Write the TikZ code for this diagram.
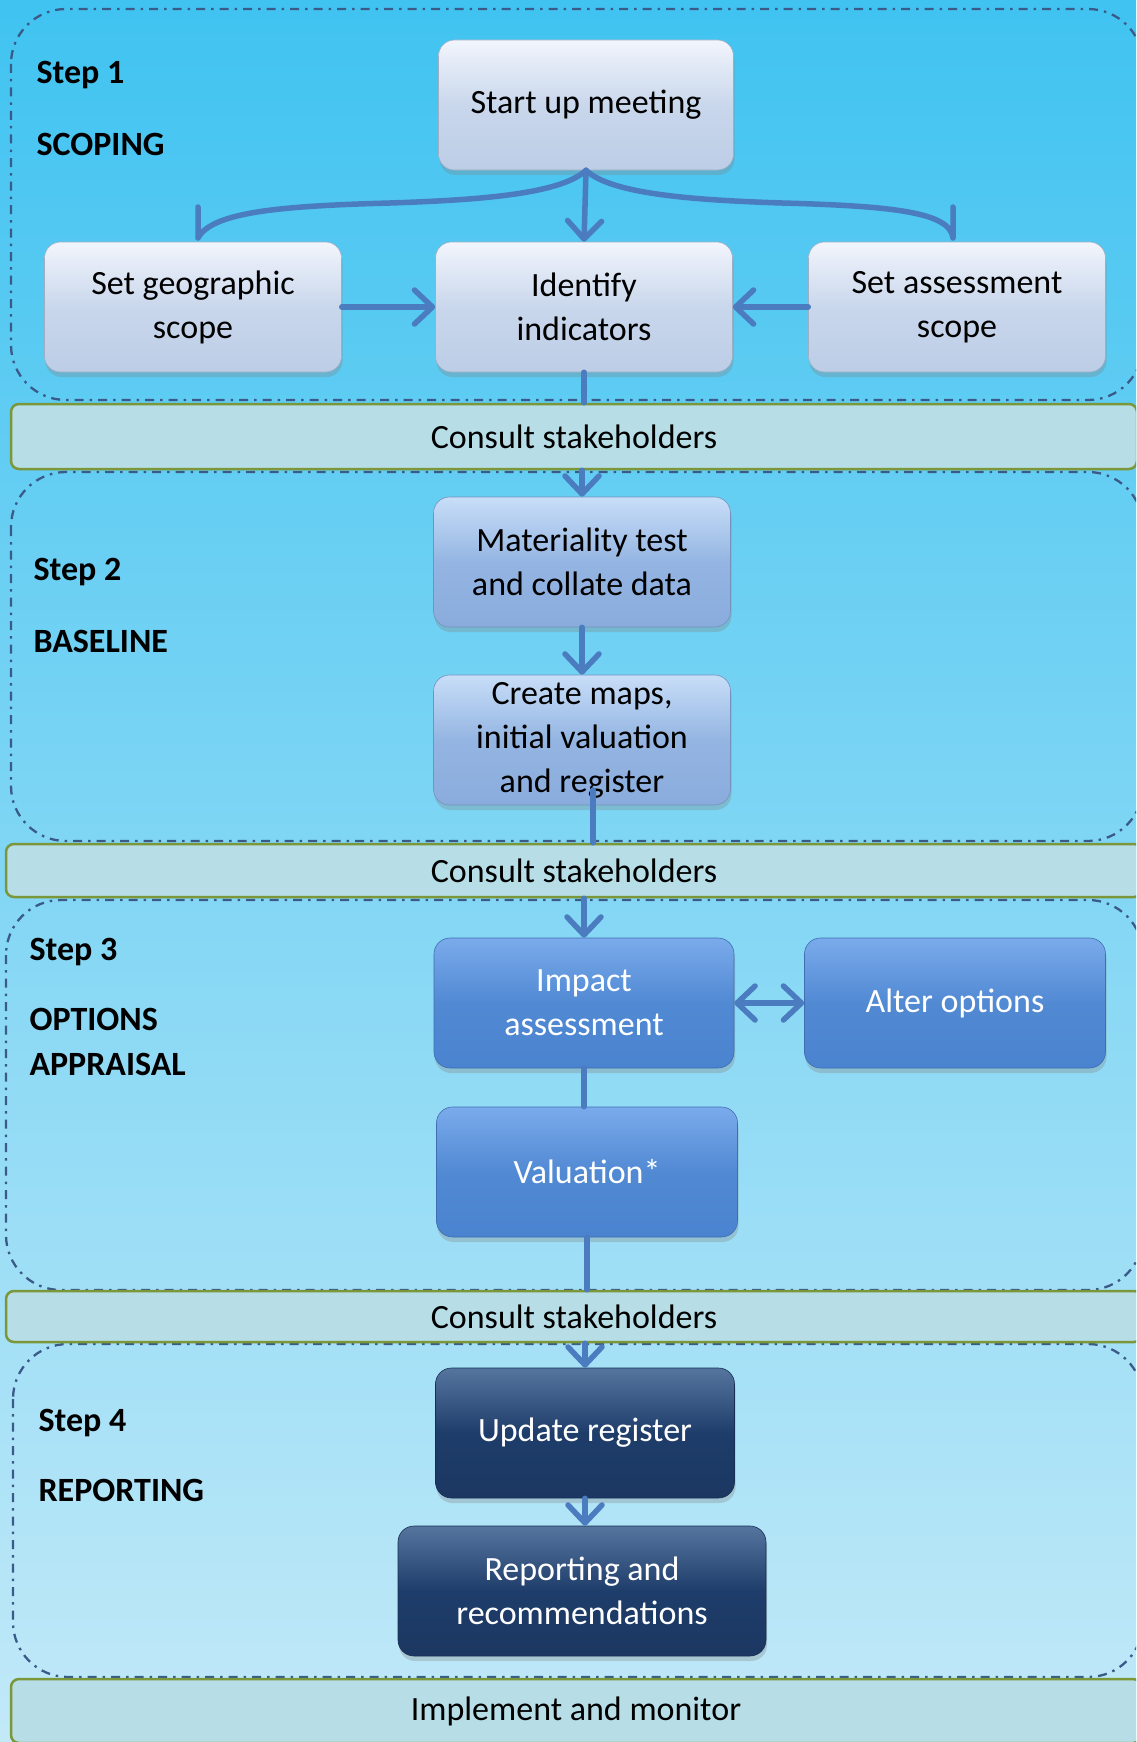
\documentclass[tikz,border=0pt]{standalone}
\usepackage{fontspec}
\setmainfont{Carlito}
\usetikzlibrary{arrows.meta,shadows,calc}
\definecolor{bgtop}{HTML}{40C3F1}
\definecolor{bgbot}{HTML}{C2E9F8}
\definecolor{framec}{HTML}{3A5A88}
\definecolor{barfill}{HTML}{B7DDE6}
\definecolor{barborder}{HTML}{7B973A}
\definecolor{conncol}{HTML}{4A7CBF}
\definecolor{bAtop}{HTML}{F2F5FC}
\definecolor{bAmid}{HTML}{C9D7EC}
\definecolor{bAbot}{HTML}{BCCDE6}
\definecolor{bBtop}{HTML}{C8DEF8}
\definecolor{bBmid}{HTML}{94B5E2}
\definecolor{bBbot}{HTML}{8AACDD}
\definecolor{bCtop}{HTML}{7AABEC}
\definecolor{bCmid}{HTML}{5189D3}
\definecolor{bCbot}{HTML}{4A83CF}
\definecolor{bDtop}{HTML}{55759F}
\definecolor{bDmid}{HTML}{1F3D6A}
\definecolor{bDbot}{HTML}{1B3762}
\begin{document}
\begin{tikzpicture}[x=1pt,y=-1pt,
  every node/.style={font=\fontsize{34}{44}\selectfont},
  stepframe/.style={draw=framec, line width=2.3pt, dash pattern=on 9pt off 6pt on 2.5pt off 6pt, rounded corners=55pt},
  bar/.style={draw=barborder, fill=barfill, line width=2.5pt, rounded corners=8pt, inner sep=0pt},
  box/.style={rectangle, rounded corners=16pt, minimum width=297pt, minimum height=130pt, inner sep=0pt, align=center,
    drop shadow={shadow xshift=1pt, shadow yshift=-5pt, opacity=0.3}},
  boxA/.style={box, top color=bAtop, bottom color=bAbot, middle color=bAmid, draw=bAbot!85!black, line width=0.6pt, text=black},
  boxB/.style={box, top color=bBtop, bottom color=bBbot, middle color=bBmid, draw=bBbot!85!black, line width=0.6pt, text=black},
  boxC/.style={box, top color=bCtop, bottom color=bCbot, middle color=bCmid, draw=bCbot!85!black, line width=0.6pt, text=white},
  boxD/.style={box, top color=bDtop, bottom color=bDbot, middle color=bDmid, draw=bDbot!85!black, line width=0.6pt, text=white},
  conn/.style={draw=conncol, line width=5.5pt, line cap=round},
  arr/.style={conn, -{Straight Barb[length=18pt,width=34pt,round]}},
  darr/.style={conn, {Straight Barb[length=18pt,width=34pt,round]}-{Straight Barb[length=18pt,width=34pt,round]}},
  lab/.style={anchor=west, font=\fontsize{34}{44}\selectfont\bfseries, text=black}
]
\useasboundingbox (0,0) rectangle (1136,1742);
\clip (0,0) rectangle (1136,1742);
\fill[top color=bgtop, bottom color=bgbot] (0,0) rectangle (1136,1742);

% step frames
\draw[stepframe] (11,9) rectangle (1143,400);
\draw[stepframe] (11,472) rectangle (1143,841);
\draw[stepframe] (6,900) rectangle (1143,1290);
\draw[stepframe] (13,1344) rectangle (1143,1677);

% step labels
\node[lab] (s1a) at (33,75) {Step 1};
\node[lab] (s1b) at (33,144) {SCOPING};
\node[lab] (s2a) at (30,572) {Step 2};
\node[lab] (s2b) at (30,641) {BASELINE};
\node[lab] (s3a) at (26,952) {Step 3};
\node[lab] (s3b) at (26,1019) {OPTIONS};
\node[lab] (s3c) at (26,1064) {APPRAISAL};
\node[lab] (s4a) at (35,1423) {Step 4};
\node[lab] (s4b) at (35,1490) {REPORTING};

% consult bars
\node[bar, minimum width=1126pt, minimum height=65pt] (c1) at (574,436.5) {Consult stakeholders};
\node[bar, minimum width=1136pt, minimum height=53pt] (c2) at (574,870.5) {Consult stakeholders};
\node[bar, minimum width=1136pt, minimum height=51pt] (c3) at (574,1316.5) {Consult stakeholders};
\node[bar, minimum width=1130pt, minimum height=64pt] (c4) at (576,1711) {Implement and monitor};

% step 1 nodes
\node[boxA, minimum width=295pt] (su) at (586,105) {Start up meeting};
\node[boxA] (geo) at (193,307) {Set geographic\\scope};
\node[boxA] (idn) at (584,307) {Identify\\indicators};
\node[boxA] (asc) at (957,307) {Set assessment\\scope};

% step 2 nodes
\node[boxB] (mat) at (582,562) {Materiality test\\and collate data};
\node[boxB] (cm) at (582,740) {Create maps,\\initial valuation\\and register};

% step 3 nodes
\node[boxC, minimum width=300pt] (imp) at (584,1003) {Impact\\assessment};
\node[boxC, minimum width=301pt] (alt) at (955,1003) {Alter options};
\node[boxC, minimum width=301pt] (val) at (587,1172) {Valuation*};

% step 4 nodes
\node[boxD, minimum width=299pt] (upd) at (585,1433) {Update register};
\node[boxD, minimum width=368pt] (rep) at (582,1591) {Reporting and\\recommendations};

% brace from start up meeting
\coordinate (bl) at (198,238);
\coordinate (blt) at (198,207);
\coordinate (br) at (953,238);
\coordinate (brt) at (953,207);
\draw[conn, line join=round] (su.south) .. controls (561,194) and (480,200) .. (390,203) .. controls (280,206) and (212,212) .. (bl) -- (blt);
\draw[conn, line join=round] (su.south) .. controls (611,194) and (692,200) .. (782,203) .. controls (892,206) and (950,212) .. (br) -- (brt);
\draw[arr] (su.south) -- (idn.north);

\draw[arr] (geo.east) -- (idn.west);
\draw[arr] (asc.west) -- (idn.east);
\draw[conn] (idn.south) -- (idn.south |- c1.north);
\draw[arr] (mat.north |- c1.south) -- (mat.north);
\draw[arr] (mat.south) -- (cm.north);
\coordinate (cmout) at (593,790);
\draw[conn] (cmout) -- (cmout |- c2.north);
\draw[arr] (imp.north |- c2.south) -- (imp.north);
\draw[darr] (imp.east) -- (alt.west);
\draw[conn] (imp.south) -- (imp.south |- val.north);
\draw[conn] (val.south) -- (val.south |- c3.north);
\draw[arr] (upd.north |- c3.south) -- (upd.north);
\draw[arr] (upd.south) -- (upd.south |- rep.north);
\end{tikzpicture}
\end{document}
